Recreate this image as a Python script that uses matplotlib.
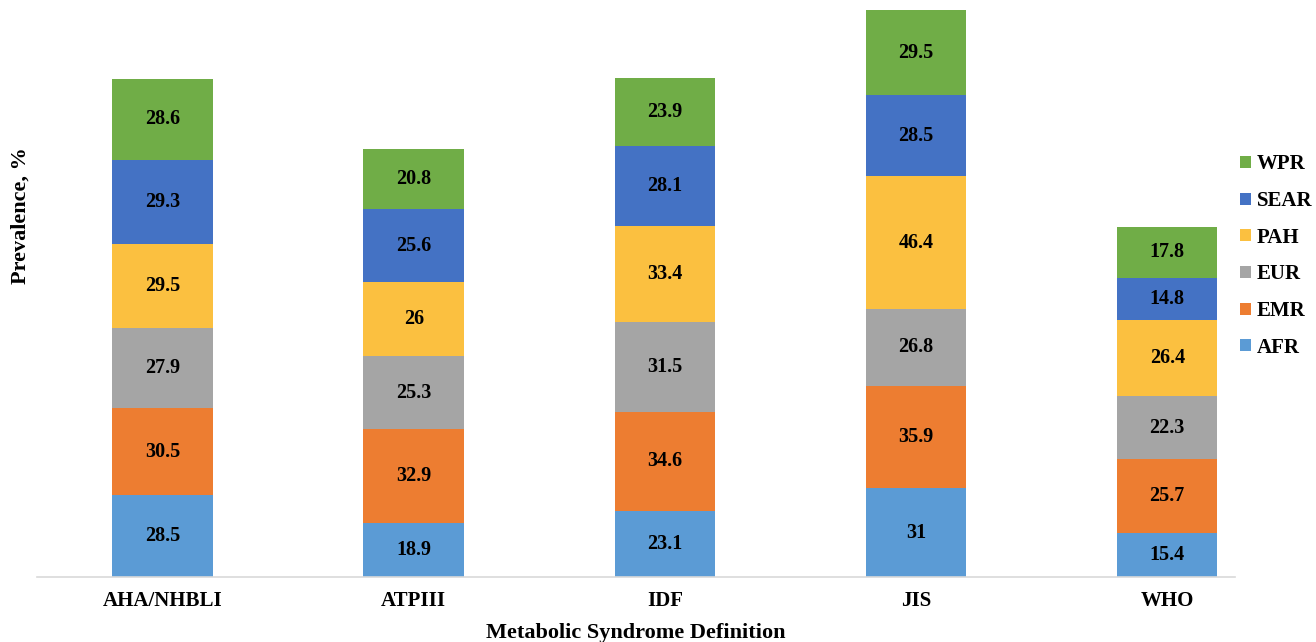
import matplotlib.pyplot as plt
import numpy as np

plt.rcParams['font.family'] = ['Liberation Serif', 'DejaVu Serif']
plt.rcParams['font.weight'] = 'bold'

definitions = ["AHA/NHBLI", "ATPIII", "IDF", "JIS", "WHO"]
regions = ["AFR", "EMR", "EUR", "PAH", "SEAR", "WPR"]
afr = [28.5, 18.9, 23.1, 31, 15.4]
emr = [30.5, 32.9, 34.6, 35.9, 25.7]
eur = [27.9, 25.3, 31.5, 26.8, 22.3]
pah = [29.5, 26, 33.4, 46.4, 26.4]
sear = [29.3, 25.6, 28.1, 28.5, 14.8]
wpr = [28.6, 20.8, 23.9, 29.5, 17.8]
series = [afr, emr, eur, pah, sear, wpr]
colors = ["#5B9BD5", "#ED7D31", "#A5A5A5", "#FBC040", "#4472C4", "#70AD47"]

fig = plt.figure(figsize=(13.16, 6.42), dpi=100)
ax = fig.add_axes([37 / 1316, 65 / 642, (1235 - 37) / 1316, 572 / 642])

x = np.arange(len(definitions))
bottom = np.zeros(len(definitions))
handles = []
for name, vals, col in zip(regions, series, colors):
    bars = ax.bar(x, vals, 0.4, bottom=bottom, color=col, label=name)
    handles.append(bars)
    for xi, b, v in zip(x, bottom, vals):
        ax.text(xi, b + v / 2, f"{v:g}", ha="center", va="center",
                fontsize=14.5, fontweight="bold", color="black")
    bottom += np.array(vals)

ax.set_xlim(-0.5, 4.27)
ax.set_ylim(0, 200)
ax.set_xticks(x)
ax.set_xticklabels(definitions, fontsize=15, fontweight="bold")
ax.tick_params(axis="x", length=0, pad=10)
ax.set_yticks([])
for s in ["top", "right", "left"]:
    ax.spines[s].set_visible(False)
ax.spines["bottom"].set_color("#D9D9D9")
ax.spines["bottom"].set_linewidth(1.2)

ax.set_xlabel("Metabolic Syndrome Definition", fontsize=16, fontweight="bold",
              labelpad=9)
fig.text(21 / 1316, 1 - 216 / 642, "Prevalence, %", rotation=90,
         ha="center", va="center", fontsize=16, fontweight="bold")

ax.legend(handles[::-1], regions[::-1], loc="center left",
          bbox_to_anchor=(0.994, 0.561), frameon=False, fontsize=15,
          handlelength=0.5, handleheight=0.5, handletextpad=0.3,
          labelspacing=0.8, borderaxespad=0.2)

plt.savefig("out.png", dpi=100)
